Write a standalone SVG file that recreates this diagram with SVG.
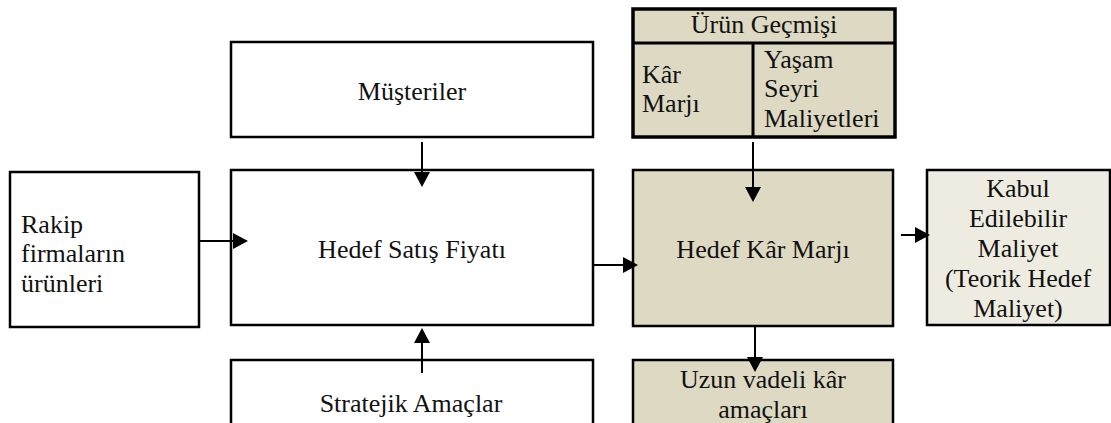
<svg xmlns="http://www.w3.org/2000/svg" width="1111" height="423" viewBox="0 0 1111 423">
  <style>
    .box { fill: #ffffff; stroke: #000000; stroke-width: 2.5; }
    .tan { fill: #DDD9C3; stroke: #000000; stroke-width: 2.5; }
    .tan-heavy { fill: #DDD9C3; stroke: #000000; stroke-width: 3.5; }
    .light { fill: #EEECE1; stroke: #000000; stroke-width: 2.5; }
    .divider { stroke: #000000; stroke-width: 3; fill: none; }
    .conn { stroke: #000000; stroke-width: 2; fill: none; marker-end: url(#arrow); }
    text { font-family: "Liberation Serif", "Times New Roman", serif; font-size: 26px; fill: #111111; }
    .c { text-anchor: middle; }
  </style>
  <defs>
    <marker id="arrow" markerUnits="userSpaceOnUse" markerWidth="17" markerHeight="17" refX="3" refY="8" orient="auto">
      <path d="M0,0 L15,8 L0,16 Z" fill="#000000"/>
    </marker>
  </defs>

  <!-- Customers -->
  <g id="musteriler">
    <rect class="box" x="231" y="42" width="362" height="95"/>
    <text class="c" x="412" y="100">Müşteriler</text>
  </g>

  <!-- Competitor products -->
  <g id="rakip">
    <rect class="box" x="10" y="172" width="189" height="155"/>
    <text x="21" y="233">Rakip</text>
    <text x="21" y="262">firmaların</text>
    <text x="21" y="292">ürünleri</text>
  </g>

  <!-- Target selling price -->
  <g id="hedef-satis">
    <rect class="box" x="231" y="170" width="362" height="155"/>
    <text class="c" x="412" y="258">Hedef Satış Fiyatı</text>
  </g>

  <!-- Strategic goals -->
  <g id="stratejik">
    <rect class="box" x="231" y="360" width="362" height="70"/>
    <text class="c" x="411" y="412">Stratejik Amaçlar</text>
  </g>

  <!-- Product history -->
  <g id="urun-gecmisi">
    <rect class="tan-heavy" x="633" y="9" width="262" height="128"/>
    <line class="divider" x1="633" y1="43" x2="895" y2="43"/>
    <line class="divider" x1="753" y1="43" x2="753" y2="137"/>
    <text class="c" x="764" y="33">Ürün Geçmişi</text>
    <text x="642" y="83">Kâr</text>
    <text x="642" y="112">Marjı</text>
    <text x="764" y="68">Yaşam</text>
    <text x="764" y="97">Seyri</text>
    <text x="764" y="127">Maliyetleri</text>
  </g>

  <!-- Target profit margin -->
  <g id="hedef-kar">
    <rect class="tan" x="633" y="170" width="260" height="156"/>
    <text class="c" x="763" y="258">Hedef Kâr Marjı</text>
  </g>

  <!-- Allowable cost -->
  <g id="kabul">
    <rect class="light" x="927" y="170" width="183" height="155"/>
    <text class="c" x="1018" y="197">Kabul</text>
    <text class="c" x="1018" y="227">Edilebilir</text>
    <text class="c" x="1018" y="257">Maliyet</text>
    <text class="c" x="1018" y="287">(Teorik Hedef</text>
    <text class="c" x="1018" y="317">Maliyet)</text>
  </g>

  <!-- Long-term profit goals -->
  <g id="uzun-vadeli">
    <rect class="tan" x="633" y="360" width="260" height="70"/>
    <text class="c" x="763" y="388">Uzun vadeli kâr</text>
    <text class="c" x="763" y="418">amaçları</text>
  </g>

  <!-- Connectors -->
  <g id="connectors">
    <line class="conn" x1="422" y1="142" x2="422" y2="175"/>
    <line class="conn" x1="199" y1="241" x2="236" y2="241"/>
    <line class="conn" x1="422" y1="373" x2="422" y2="340"/>
    <line class="conn" x1="753" y1="142" x2="753" y2="190"/>
    <line class="conn" x1="593" y1="265" x2="626" y2="265"/>
    <line class="conn" x1="901" y1="235" x2="918" y2="235"/>
    <line class="conn" x1="755" y1="326" x2="755" y2="360"/>
  </g>
</svg>
